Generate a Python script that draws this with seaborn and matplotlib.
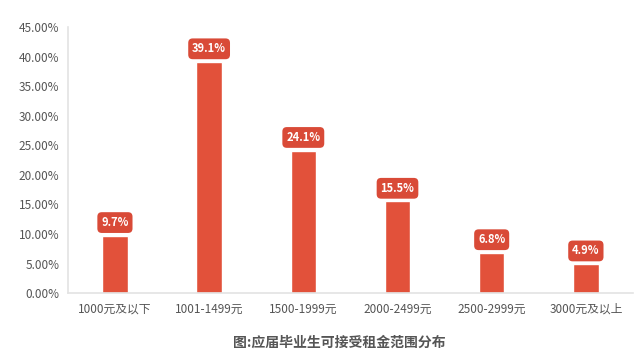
import matplotlib
matplotlib.use("Agg")
import matplotlib.pyplot as plt
import seaborn as sns
import pandas as pd
from matplotlib.ticker import FuncFormatter

categories = ["1000元及以下", "1001-1499元", "1500-1999元", "2000-2499元", "2500-2999元", "3000元及以上"]
values = [9.7, 39.1, 24.1, 15.5, 6.8, 4.9]
value_labels = ["9.7%", "39.1%", "24.1%", "15.5%", "6.8%", "4.9%"]
caption = "图:应届毕业生可接受租金范围分布"

sns.set_theme(style="white")
plt.rcParams['font.family'] = ['Noto Sans CJK SC', 'DejaVu Sans']

df = pd.DataFrame({"cat": categories, "val": values})

fig = plt.figure(figsize=(6.4, 3.57), dpi=100)
ax = fig.add_axes([0.106, 0.179, 0.883, 0.745])
bar_color = "#E2513A"
sns.barplot(data=df, x="cat", y="val", color=bar_color, width=0.27, ax=ax, saturation=1)

ax.set_ylim(0, 45)
ax.set_yticks(range(0, 46, 5))
ax.yaxis.set_major_formatter(FuncFormatter(lambda v, p: f"{v:.2f}%"))
ax.set_xlabel("")
ax.set_ylabel("")
for s in ["top", "right"]:
    ax.spines[s].set_visible(False)
for s in ["left", "bottom"]:
    ax.spines[s].set_color("#e3e3e3")
    ax.spines[s].set_linewidth(1.2)
ax.tick_params(axis="both", length=0, labelsize=8.5, colors="#555555")
ax.tick_params(axis="x", pad=7)
ax.tick_params(axis="y", pad=6)

for i, (v, lab) in enumerate(zip(values, value_labels)):
    ax.annotate(lab, (i, v), xytext=(0, 9.5), textcoords="offset points",
                ha="center", va="center", fontsize=8, fontweight="bold", color="white",
                bbox=dict(boxstyle="round,pad=0.35,rounding_size=0.4", fc="#D94A37", ec="none"))

fig.text(0.53, 0.04, caption, ha="center", va="center", fontsize=10,
         color="#555555", fontweight="bold")

fig.savefig("out.png", dpi=100, facecolor="white")
